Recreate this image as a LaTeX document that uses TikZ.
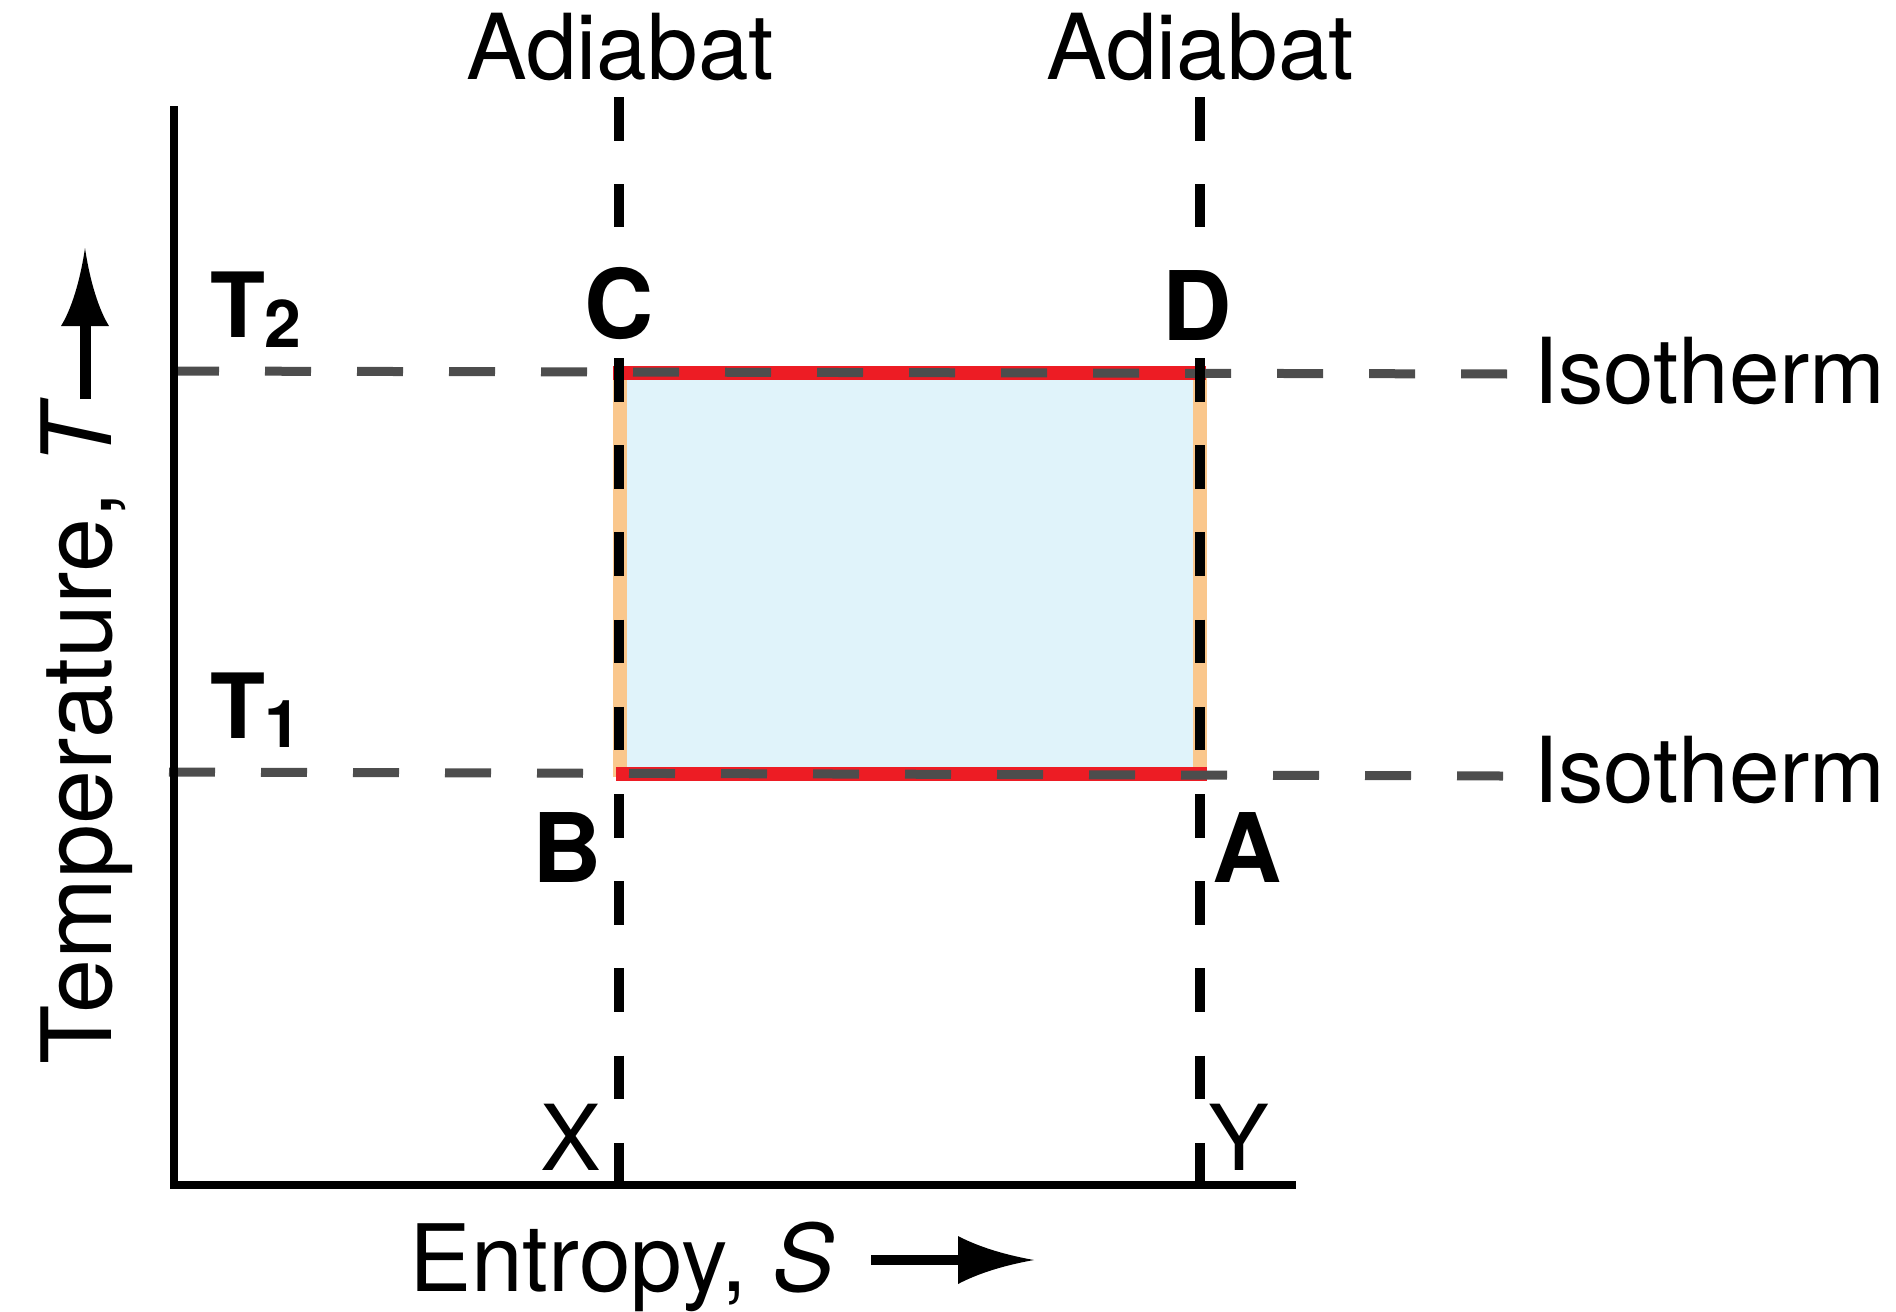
\documentclass[tikz,border=0pt]{standalone}
\usepackage{fontspec}
\setmainfont{TeX Gyre Heros}
\definecolor{cred}{HTML}{ED1C24}
\definecolor{corange}{HTML}{FAC78C}
\definecolor{cblue}{HTML}{E0F3FA}
\definecolor{cgray}{HTML}{4D4D4D}
\begin{document}
\begin{tikzpicture}[x=1pt,y=-1pt,
  lbl/.style={inner sep=0pt, outer sep=0pt, font=\fontsize{91}{100}\selectfont},
  blbl/.style={inner sep=0pt, outer sep=0pt, font=\fontsize{96}{100}\selectfont\bfseries},
  tlbl/.style={inner sep=0pt, outer sep=0pt, font=\fontsize{90}{100}\selectfont\bfseries},
  iso/.style={draw=cgray, line width=9pt, dash pattern=on 46pt off 46pt},
  adia/.style={draw=black, line width=9.3pt, dash pattern=on 43.5pt off 43.7pt},
  axisline/.style={draw=black, line width=8.7pt, line join=miter},
  redline/.style={draw=cred, line width=14pt},
  orangeline/.style={draw=corange, line width=14pt},
]
\useasboundingbox (0,0) rectangle (1896,1312);

% coordinates
\coordinate (origin) at (174,1185);
\coordinate (ytop) at (174,106);
\coordinate (xend) at (1296,1185);
\coordinate (C) at (619,373);
\coordinate (D) at (1200,373);
\coordinate (B) at (619,774);
\coordinate (A) at (1200,774);
\coordinate (isoTs) at (173,371);
\coordinate (isoTe) at (1509,374);
\coordinate (isoBs) at (169,772);
\coordinate (isoBe) at (1503,776);
\coordinate (adLt) at (619,97);
\coordinate (adLm) at (619,227);
\coordinate (adLn) at (619,358);
\coordinate (adLb) at (619,1185);
\coordinate (adRt) at (1200,97);
\coordinate (adRm) at (1200,227);
\coordinate (adRn) at (1200,358);
\coordinate (adRb) at (1200,1185);

% cycle area
\fill[cblue] (C) rectangle (A);
\draw[orangeline] (620,373) -- (620,777);
\draw[orangeline] (1200,373) -- (1200,777);
\draw[redline] (613,373) -- (1206,373);
\draw[redline] (616,774) -- (1207,774);

% isotherms
\draw[iso] (isoTs) -- (isoTe);
\draw[iso] (isoBs) -- (isoBe);

% adiabats
\draw[adia] (adLt) -- (adLm);
\draw[adia] (adLn) -- (adLb);
\draw[adia] (adRt) -- (adRm);
\draw[adia] (adRn) -- (adRb);

% axes
\draw[axisline] (ytop) -- (origin) -- (xend);

% labels
\node[lbl, anchor=base] (ad1) at (620,79) {Adiabat};
\node[lbl, anchor=base] (ad2) at (1200,79) {Adiabat};
\node[lbl, anchor=base west] (iso1) at (1533,403) {Isotherm};
\node[lbl, anchor=base west] (iso2) at (1533,802) {Isotherm};

\node[blbl, anchor=base] (lC) at (619,338) {C};
\node[blbl, anchor=base] (lD) at (1197,340) {D};
\node[blbl, anchor=base east] (lB) at (602,882) {B};
\node[blbl, anchor=base west] (lA) at (1212,882) {A};

\node[lbl, anchor=base west] (lX) at (540,1170) {X};
\node[lbl, anchor=base west] (lY) at (1208,1170) {Y};

\node[tlbl, anchor=base west] (T2) at (210,337) {T\raisebox{-10pt}{\fontsize{66}{66}\selectfont\bfseries 2}};
\node[tlbl, anchor=base west] (T1) at (210,738) {T\raisebox{-9pt}{\fontsize{66}{66}\selectfont\bfseries 1}};

\node[lbl, anchor=base west, font=\fontsize{93}{100}\selectfont] (Slab) at (409,1291) {Entropy, \textit{S}};
\node[lbl, anchor=base west, rotate=90, font=\fontsize{97}{100}\selectfont] (Tlab) at (111,1064) {Temperature, \textit{T}};

% entropy arrow
\coordinate (sA) at (871,1260);
\coordinate (sB) at (962,1260);
\draw[line width=10pt] (sA) -- (sB);
\fill (1034,1260) .. controls (1000,1254) and (975,1245) .. (958,1236) -- (958,1284) .. controls (975,1275) and (1000,1266) .. (1034,1260) -- cycle;

% temperature arrow
\coordinate (tA) at (85,399);
\coordinate (tB) at (85,322);
\draw[line width=11pt] (tA) -- (tB);
\fill (85,248) .. controls (80,282) and (71,310) .. (61,326) -- (109,326) .. controls (99,310) and (90,282) .. (85,248) -- cycle;
\end{tikzpicture}
\end{document}
